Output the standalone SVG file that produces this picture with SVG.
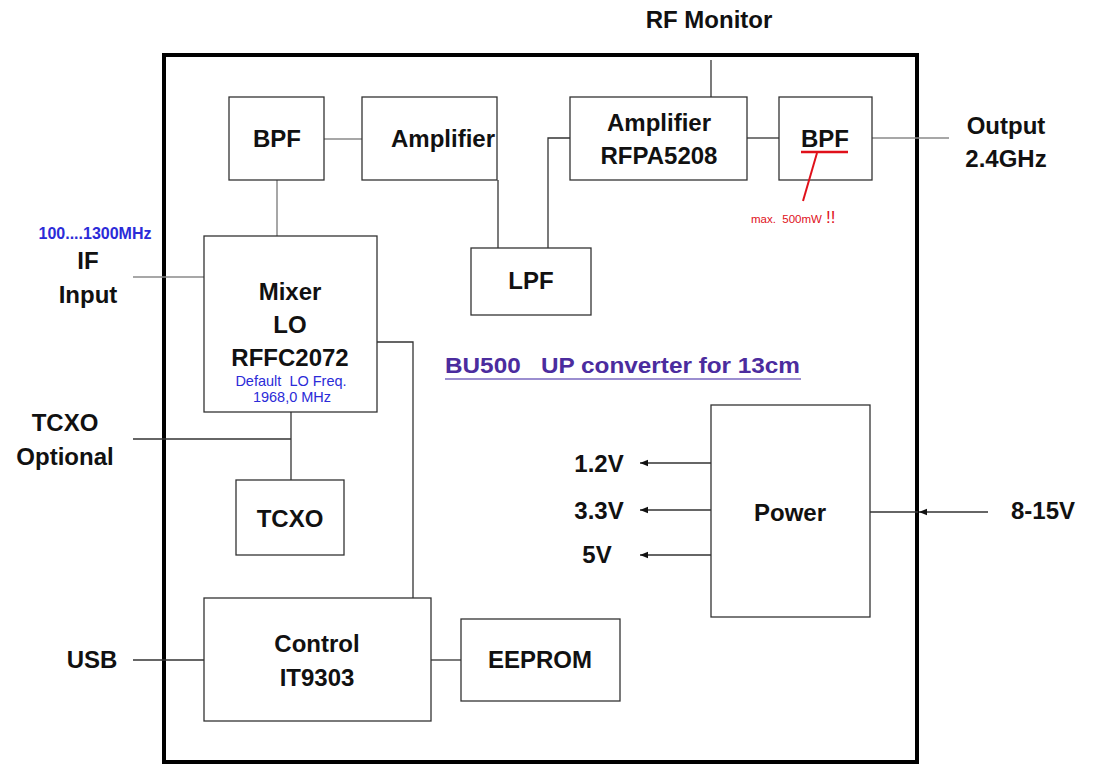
<svg xmlns="http://www.w3.org/2000/svg" width="1102" height="765" viewBox="0 0 1102 765">
<defs>
<style>
.box{fill:#fff;stroke:#333;stroke-width:1.3}
.t{font-family:"Liberation Sans",Arial,sans-serif;font-weight:bold;font-size:24px;fill:#111;text-anchor:middle}
.blue{font-family:"Liberation Sans",Arial,sans-serif;fill:#2b2bd8;text-anchor:middle}
.ln{stroke:#333;stroke-width:1.3;fill:none}
.lg{stroke:#8a8a8a;stroke-width:1.5;fill:none}
.red{stroke:#e0101a;fill:none}
</style>
<marker id="ah" viewBox="0 0 10 10" refX="10" refY="5" markerWidth="8" markerHeight="8" markerUnits="userSpaceOnUse" orient="auto">
<path d="M0,1 L10,5 L0,9 Z" fill="#111"/>
</marker>
</defs>
<rect width="1102" height="765" fill="#fff"/>
<rect id="frame" x="164" y="55" width="753" height="707" fill="none" stroke="#000" stroke-width="4"/>

<g id="connectors">
<line class="lg" x1="324" y1="139" x2="362" y2="139"/>
<line class="lg" x1="277" y1="180" x2="277" y2="236"/>
<line class="ln" x1="498" y1="180" x2="498" y2="248"/>
<polyline class="ln" points="548,248 548,138 570,138"/>
<line class="ln" x1="747" y1="138" x2="779" y2="138"/>
<line class="ln" x1="711" y1="60" x2="711" y2="97"/>
<line class="lg" x1="872" y1="138" x2="949" y2="138"/>
<line class="lg" x1="133" y1="277" x2="204" y2="277"/>
<polyline class="ln" points="377,342 413,342 413,598"/>
<polyline class="ln" points="133,439 291,439"/>
<line class="ln" x1="291" y1="412" x2="291" y2="480"/>
<line class="ln" x1="133" y1="660" x2="204" y2="660"/>
<line class="ln" x1="431" y1="660" x2="461" y2="660"/>
<line class="ln" x1="711" y1="463" x2="640" y2="463" marker-end="url(#ah)"/>
<line class="ln" x1="711" y1="510" x2="640" y2="510" marker-end="url(#ah)"/>
<line class="ln" x1="711" y1="555" x2="640" y2="555" marker-end="url(#ah)"/>
<line class="ln" x1="870" y1="512" x2="918" y2="512"/>
<line class="ln" x1="988" y1="512" x2="919" y2="512" marker-end="url(#ah)"/>
</g>

<g id="bpf1"><rect class="box" x="229" y="97" width="95" height="83"/><text class="t" x="277" y="147">BPF</text></g>
<g id="amp1"><rect class="box" x="362" y="97" width="135" height="83"/><text class="t" x="443" y="147">Amplifier</text></g>
<g id="amp2"><rect class="box" x="570" y="97" width="177" height="83"/><text class="t" x="659" y="131">Amplifier</text><text class="t" x="659" y="164">RFPA5208</text></g>
<g id="bpf2"><rect class="box" x="779" y="97" width="93" height="83"/><text class="t" x="825" y="147">BPF</text></g>
<g id="lpf"><rect class="box" x="471" y="248" width="120" height="67"/><text class="t" x="531" y="289">LPF</text></g>
<g id="mixer"><rect class="box" x="204" y="236" width="173" height="176"/>
<text class="t" x="290" y="300">Mixer</text><text class="t" x="290" y="333">LO</text><text class="t" x="290" y="366">RFFC2072</text>
<text class="blue" x="291" y="386" font-size="14.5">Default&#160; LO Freq.</text><text class="blue" x="292" y="402" font-size="14.5">1968,0 MHz</text></g>
<g id="tcxo"><rect class="box" x="236" y="480" width="108" height="75"/><text class="t" x="290" y="527">TCXO</text></g>
<g id="control"><rect class="box" x="204" y="598" width="227" height="123"/><text class="t" x="317" y="652">Control</text><text class="t" x="317" y="686">IT9303</text></g>
<g id="eeprom"><rect class="box" x="461" y="619" width="159" height="82"/><text class="t" x="540" y="668">EEPROM</text></g>
<g id="power"><rect class="box" x="711" y="405" width="159" height="212"/><text class="t" x="790" y="521">Power</text></g>

<g id="annotation">
<line class="red" x1="801" y1="152" x2="848" y2="152" stroke-width="2.5"/>
<line class="red" x1="817" y1="153" x2="803" y2="201" stroke-width="2"/>
<text x="751" y="223" font-family="Liberation Sans,Arial,sans-serif" font-size="11.5" fill="#e0101a">max.&#160; 500mW</text>
<text x="826" y="223" font-family="Liberation Sans,Arial,sans-serif" font-size="17" fill="#e0101a">!!</text>
</g>

<g id="labels">
<text class="t" x="709" y="28">RF Monitor</text>
<text class="t" x="1006" y="134">Output</text>
<text class="t" x="1006" y="167">2.4GHz</text>
<text class="blue" x="95" y="239" font-size="16" font-weight="bold">100....1300MHz</text>
<text class="t" x="88" y="269">IF</text>
<text class="t" x="88" y="303">Input</text>
<text class="t" x="65" y="431">TCXO</text>
<text class="t" x="65" y="465">Optional</text>
<text class="t" x="92" y="668">USB</text>
<text class="t" x="599" y="472">1.2V</text>
<text class="t" x="599" y="519">3.3V</text>
<text class="t" x="597" y="563">5V</text>
<text class="t" x="1043" y="519">8-15V</text>
<text x="445" y="373" font-family="Liberation Sans,Arial,sans-serif" font-weight="bold" font-size="22" fill="#4b2c9e" textLength="355" lengthAdjust="spacingAndGlyphs">BU500&#160;&#160; UP converter for 13cm</text>
<line x1="445" y1="379" x2="801" y2="379" stroke="#7a68c0" stroke-width="1.5"/>
</g>
</svg>
